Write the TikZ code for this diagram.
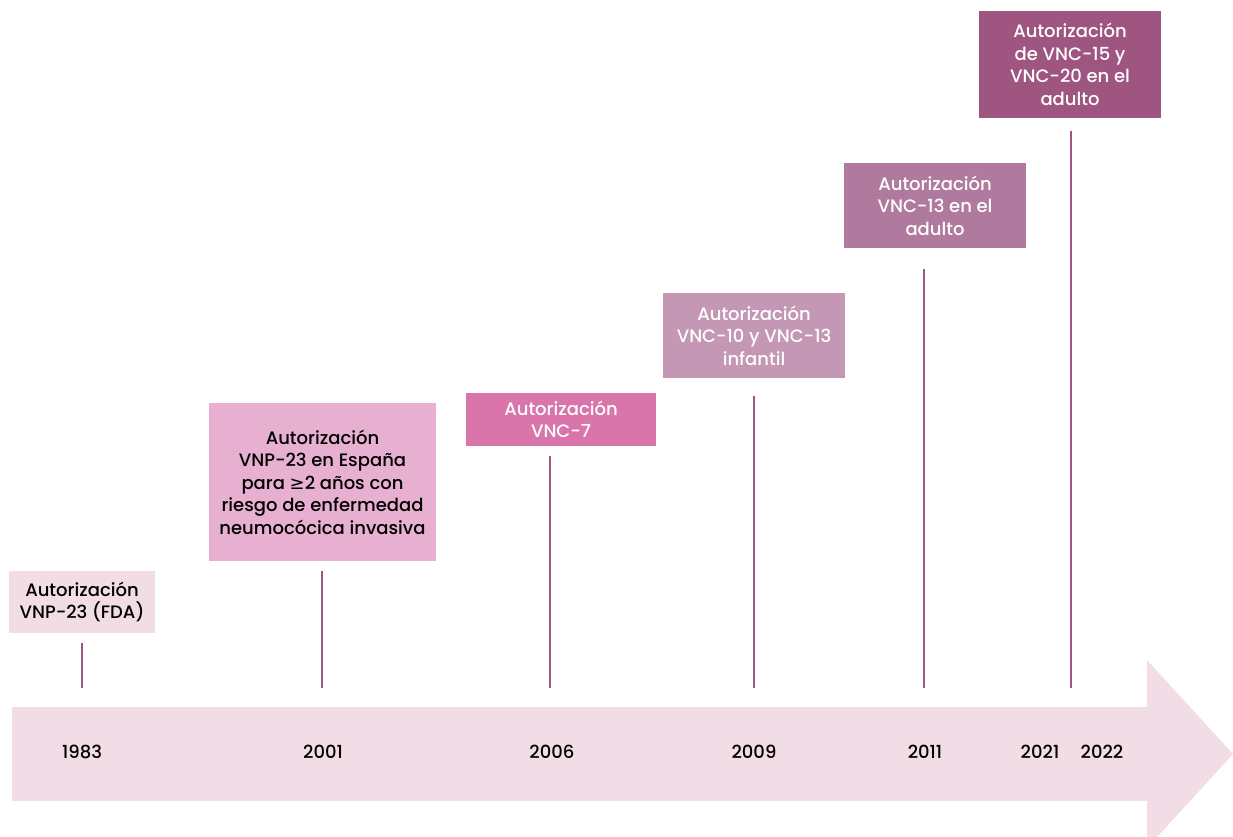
\documentclass[tikz,border=0pt]{standalone}
\usepackage{fontspec}
\setmainfont{Poppins Medium}
\newfontfamily\symf{DejaVu Sans}
\usetikzlibrary{calc}
\definecolor{cA}{HTML}{F2DDE6}
\definecolor{cB}{HTML}{E8B0D0}
\definecolor{cC}{HTML}{D975AA}
\definecolor{cD}{HTML}{C497B5}
\definecolor{cE}{HTML}{B07A9E}
\definecolor{cF}{HTML}{9E5580}
\definecolor{stemc}{HTML}{9E5580}
\begin{document}
\begin{tikzpicture}[x=1pt,y=1pt,
  evbox/.style={inner sep=0pt, align=center, font=\fontsize{18}{22.5}\selectfont},
  yearlab/.style={font=\fontsize{18}{20}\selectfont, text=black},
  stem/.style={draw=stemc, line width=2.8pt}]
\useasboundingbox (0,0) rectangle (1233,836);
% timeline arrow
\fill[cA] (12,129) -- (1147,129) -- (1147,176) -- (1233,82) -- (1147,-12) -- (1147,35) -- (12,35) -- cycle;
% boxes
\node[evbox, fill=cA, minimum width=146pt, minimum height=62pt, text=black] (b1) at (82,234) {Autorización\\VNP-23 (FDA)};
\node[evbox, fill=cB, minimum width=227pt, minimum height=158pt, text=black] (b2) at (322.5,354) {Autorización\\VNP-23 en España\\para {\symf ≥}2 años con\\riesgo de enfermedad\\neumocócica invasiva};
\node[evbox, fill=cC, minimum width=190pt, minimum height=53pt, text=white] (b3) at (561,416.5) {Autorización\\VNC-7};
\node[evbox, fill=cD, minimum width=182pt, minimum height=85pt, text=white] (b4) at (754,500.5) {Autorización\\VNC-10 y VNC-13\\infantil};
\node[evbox, fill=cE, minimum width=182pt, minimum height=85pt, text=white] (b5) at (935,630.5) {Autorización\\VNC-13 en el\\adulto};
\node[evbox, fill=cF, minimum width=182pt, minimum height=107pt, text=white] (b6) at (1070,771.5) {Autorización\\de VNC-15 y\\VNC-20 en el\\adulto};
% stem ends
\coordinate (e1) at (82,148);
\coordinate (e2) at (322,148);
\coordinate (e3) at (550,148);
\coordinate (e4) at (754,148);
\coordinate (e5) at (924,148);
\coordinate (e6) at (1071,148);
\draw[stem] ($(b1.south -| e1)+(0,-10)$) -- (e1);
\draw[stem] ($(b2.south -| e2)+(0,-10)$) -- (e2);
\draw[stem] ($(b3.south -| e3)+(0,-10)$) -- (e3);
\draw[stem] ($(b4.south -| e4)+(0,-18)$) -- (e4);
\draw[stem] ($(b5.south -| e5)+(0,-21)$) -- (e5);
\draw[stem] ($(b6.south -| e6)+(0,-13)$) -- (e6);
% years
\node[yearlab] (y1) at (82,84) {1983};
\node[yearlab] (y2) at (323,84) {2001};
\node[yearlab] (y3) at (552,84) {2006};
\node[yearlab] (y4) at (754,84) {2009};
\node[yearlab] (y5) at (925,84) {2011};
\node[yearlab] (y6) at (1040,84) {2021};
\node[yearlab] (y7) at (1102,84) {2022};
\end{tikzpicture}
\end{document}
